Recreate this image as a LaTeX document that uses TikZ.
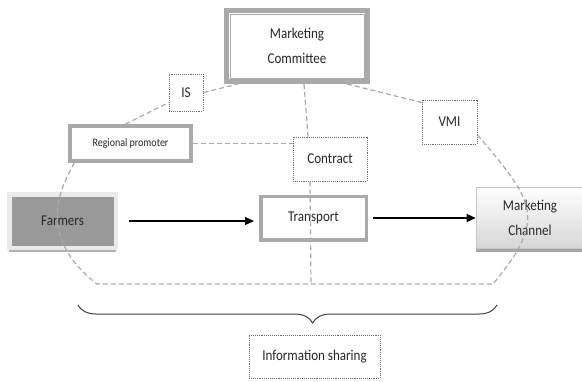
\documentclass[tikz,border=0pt]{standalone}
\usepackage{fontspec}
\setmainfont{Carlito}[FakeStretch=0.87]
\usetikzlibrary{arrows.meta,decorations.pathreplacing,shadows}
\definecolor{boxgray}{RGB}{170,170,170}
\definecolor{dashgray}{RGB}{170,170,170}
\definecolor{dotgray}{RGB}{110,110,110}
\definecolor{farmgray}{RGB}{153,153,153}
\definecolor{framegray}{RGB}{234,234,234}
\definecolor{inkgray}{RGB}{40,40,40}
\tikzset{
  every node/.style={inner sep=0pt, text=inkgray, align=center,
    font=\fontsize{15}{25}\selectfont},
  thickbox/.style={draw=boxgray, fill=white, line width=#1},
  dotbox/.style={draw=dotgray, densely dotted, line width=0.9pt, fill=white},
  link/.style={draw=dashgray, line width=1.2pt, dash pattern=on 5pt off 3pt},
  flow/.style={draw=black, line width=1.1pt, -{Triangle[length=9pt,width=8pt]}},
  bracket/.style={draw=black!75, line width=1pt, decorate,
    decoration={brace, mirror, amplitude=18pt, aspect=0.56}},
}
\begin{document}
\begin{tikzpicture}[x=1pt, y=-1pt]
  \useasboundingbox (0,0) rectangle (582,381);
  \draw
    (297,46) node[thickbox=5pt, minimum width=141pt, minimum height=71pt] (committee) {Marketing\\Committee}
    (186,92.5) node[dotbox, minimum width=34pt, minimum height=37pt] (is) {IS}
    (130.5,143.5) node[thickbox=3.6pt, minimum width=121pt, minimum height=35pt,
      font=\fontsize{11.5}{13}\selectfont] (regional) {Regional promoter}
    (330,159) node[dotbox, minimum width=74pt, minimum height=44pt] (contract) {Contract}
    (449.5,122) node[dotbox, minimum width=55pt, minimum height=44pt] (vmi) {VMI}
    (62.5,221) node[fill=farmgray, draw=framegray, line width=4.5pt,
      minimum width=106.5pt, minimum height=53.5pt,
      drop shadow={shadow xshift=0pt, shadow yshift=-4.5pt, fill=black!30, opacity=1}] (farmers) {Farmers}
    (313.5,218) node[thickbox=3.5pt, minimum width=105.5pt, minimum height=43.5pt] (transport) {Transport}
    (530,218) node[draw=black!22, line width=0.6pt, top color=white, bottom color=black!16,
      minimum width=108pt, minimum height=61pt,
      drop shadow={shadow xshift=0pt, shadow yshift=-3pt, fill=black!35, opacity=1}] (channel) {Marketing\\Channel}
    (314.5,356.5) node[dotbox, minimum width=131pt, minimum height=43pt] (info) {Information sharing};
  % inner line of the committee frame
  \draw[boxgray, line width=0.8pt] ([shift={(6,6)}]committee.north west) rectangle ([shift={(-6,-6)}]committee.south east);
  \coordinate (rightbottom) at (493,284);
  \coordinate (leftbottom) at (97,284);
  \coordinate (midbottom) at (311,284);
  \coordinate (braceleft) at (78,305);
  \coordinate (braceright) at (497,305);
  \begin{scope}[link]
    \draw (regional.105) to (is.210);
    \draw (is.east) to ([xshift=14pt]committee.south west);
    \draw ([xshift=-23pt]committee.south east) to (vmi.145);
    \draw ([xshift=7pt]committee.south) to ([xshift=-22pt]contract.north);
    \draw (regional.east) to (regional.east -| contract.west);
    \draw ([xshift=-20pt]contract.south) to (midbottom);
    \draw (vmi.-25) .. controls (535,202) and (547,219) .. (rightbottom) -- (leftbottom)
      .. controls (30,232) and (66,180) .. ([xshift=6pt]regional.south west);
  \end{scope}
  \draw[flow, shorten <=11pt, shorten >=5pt] (farmers.east) -- (farmers.east -| transport.west);
  \draw[flow, shorten <=5pt] (transport.east) -- (transport.east -| channel.west);
  \draw[bracket] (braceleft) -- (braceright);
\end{tikzpicture}
\end{document}
